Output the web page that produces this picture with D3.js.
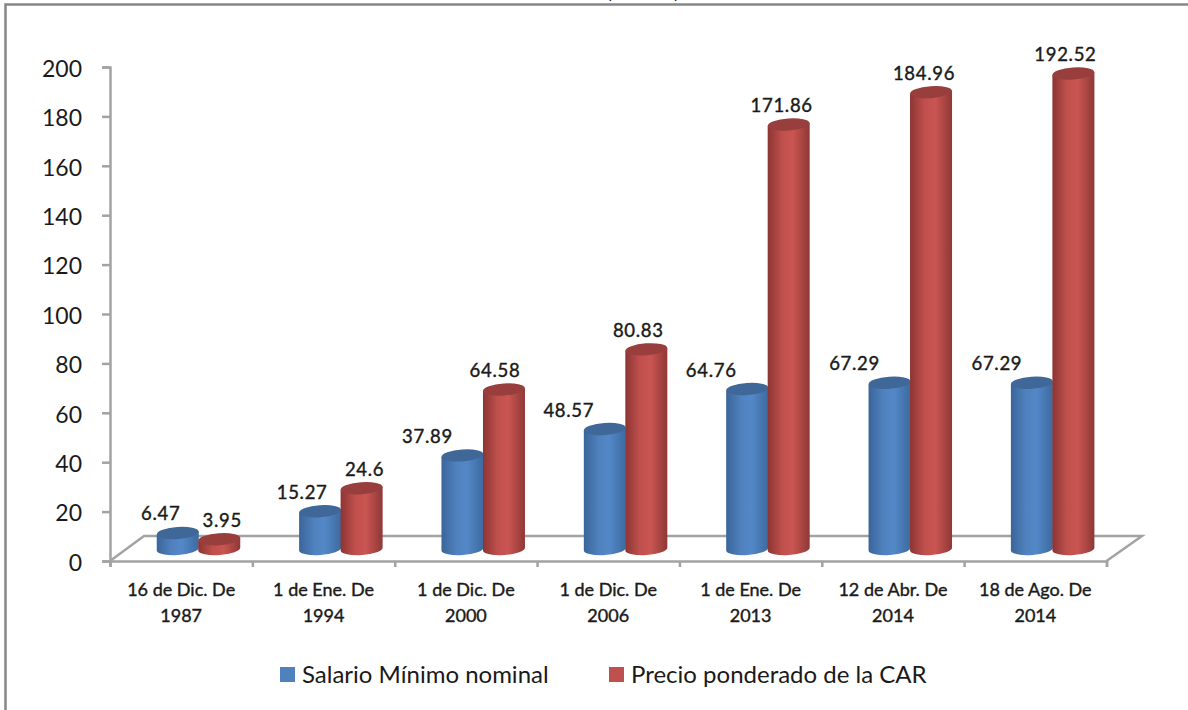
<!DOCTYPE html>
<meta charset="utf-8">
<script src="https://cdnjs.cloudflare.com/ajax/libs/d3/7.8.5/d3.min.js"></script>
<style>
  html, body { margin: 0; padding: 0; background: #fff; overflow: hidden; }
  text { font-family: Lato, "Open Sans", sans-serif; fill: #1a1a1a; }
</style>
<body>
<script>

// Data
var categories = [
  ["16 de Dic. De", "1987"],
  ["1 de Ene. De", "1994"],
  ["1 de Dic. De", "2000"],
  ["1 de Dic. De", "2006"],
  ["1 de Ene. De", "2013"],
  ["12 de Abr. De", "2014"],
  ["18 de Ago. De", "2014"]
];
var salario = [6.47, 15.27, 37.89, 48.57, 64.76, 67.29, 67.29];
var precio = [3.95, 24.6, 64.58, 80.83, 171.86, 184.96, 192.52];
var salarioLabels = ["6.47", "15.27", "37.89", "48.57", "64.76", "67.29", "67.29"];
var precioLabels = ["3.95", "24.6", "64.58", "80.83", "171.86", "184.96", "192.52"];
var yTicks = [0, 20, 40, 60, 80, 100, 120, 140, 160, 180, 200];

// Horizontal nudges of the data labels, the original has them hand placed
var salarioDx = [-17, -18, -35, -36, -36, -35, -35];
var precioDx = [3, 3, -9, -8, -7, -7, -8];

var axisColor = "#a3a3a3";
var rx = 21, ry = 6, floorDepth = 12, tilt = -4;

var svg = d3.select("body").append("svg")
    .attr("width", 1188)
    .attr("height", 710);

// Gradients for the cylinders
function addGradient(id, stops) {
  var g = svg.append("defs").append("linearGradient").attr("id", id);
  stops.forEach(function(s) {
    g.append("stop").attr("offset", s[0]).attr("stop-color", s[1]);
  });
}
addGradient("blueSide", [["0", "#3a659a"], ["0.35", "#4f81bd"], ["0.6", "#5388c8"], ["1", "#3d6a9f"]]);
addGradient("redSide", [["0", "#8c3533"], ["0.35", "#c0504d"], ["0.6", "#ca5552"], ["1", "#8f3836"]]);

// Frame: only the top and left edges are inside the picture
svg.append("path")
  .attr("d", "M5.5,710V4.5H1188")
  .attr("fill", "none")
  .attr("stroke", "#868686")
  .attr("stroke-width", 2.5);

// Title is cut off by the picture edge, only the bottoms of its brackets are left
svg.selectAll(".title")
    .data(["(", ")"])
  .enter().append("text")
    .attr("class", "title")
    .attr("x", function(d) { return d == "(" ? 609 : 677; })
    .attr("y", -2)
    .attr("text-anchor", "middle")
    .style("font-size", "22px")
    .text(function(d) { return d; });

var x = d3.scaleBand()
  .domain(d3.range(categories.length))
  .range([110, 1106.5]);

var inner = d3.scaleBand()
  .domain(["salario", "precio"])
  .range([47, 130]);

var y = d3.scaleLinear()
  .domain([0, 200])
  .range([561, 67]);

// Floor of the 3D box
svg.append("path")
  .attr("d", "M" + x.range()[0] + "," + y(0) + "L144," + (y(0) - 25) + "H1142L" + x.range()[1] + "," + y(0))
  .attr("fill", "none")
  .attr("stroke", axisColor)
  .attr("stroke-width", 2.5);

// Y axis
var yAxis = svg.append("g")
  .attr("transform", "translate(110,0)")
  .call(d3.axisLeft(y).tickValues(yTicks).tickSize(8).tickPadding(20));
yAxis.selectAll("path, line").attr("stroke", axisColor).attr("stroke-width", 2.5);
yAxis.selectAll("text").style("font-size", "23px").attr("fill", "#1a1a1a").attr("dy", "0.4em");

// X axis, labels are added by hand because they wrap over two lines
var xAxis = svg.append("g")
  .attr("transform", "translate(0," + y(0) + ")")
  .call(d3.axisBottom(d3.scaleLinear().domain([0, 7]).range(x.range()))
    .ticks(7).tickSize(6).tickFormat(""));
xAxis.selectAll("path, line").attr("stroke", axisColor).attr("stroke-width", 2.5);

svg.selectAll(".catlabel")
    .data(categories)
  .enter().append("text")
    .attr("class", "catlabel")
    .attr("text-anchor", "middle")
    .style("font-size", "18px")
    .style("stroke", "#1a1a1a")
    .style("stroke-width", "0.4px")
    .each(function(d, i) {
      var cx = x(i) + x.bandwidth() / 2;
      d3.select(this).selectAll("tspan")
          .data(d)
        .enter().append("tspan")
          .attr("x", cx)
          .attr("y", function(t, j) { return 596 + j * 26; })
          .text(function(t) { return t; });
    });

// One series of cylinders
function drawSeries(name, values, labels, dx, side, top) {
  var g = svg.append("g").attr("class", "series-" + name);
  var w = inner.bandwidth();
  var bars = g.selectAll("g")
      .data(values)
    .enter().append("g")
      .attr("transform", function(d, i) {
        return "translate(" + (x(i) + inner(name) + w / 2) + ",0)";
      });

  // body: bottom half ellipse and straight sides
  bars.append("path")
    .attr("fill", "url(#" + side + ")")
    .attr("d", function(d) {
      var yTop = y(d) - floorDepth, yBase = y(0) - floorDepth;
      var k = rx * Math.tan(-tilt * Math.PI / 180);
      return "M" + (-rx) + "," + (yTop + k) + "L" + (-rx) + "," + (yBase + k) +
        "A" + rx + "," + ry + " " + tilt + " 0 0 " + rx + "," + (yBase - k) +
        "L" + rx + "," + (yTop - k) + "Z";
    });

  bars.append("ellipse")
    .attr("rx", rx)
    .attr("ry", ry)
    .attr("fill", top)
    .attr("transform", function(d) {
      return "translate(0," + (y(d) - floorDepth) + ") rotate(" + tilt + ")";
    });

  bars.append("text")
    .attr("x", function(d, i) { return dx[i]; })
    .attr("y", function(d) { return y(d) - floorDepth - 19; })
    .attr("dy", "0.35em")
    .attr("text-anchor", "middle")
    .style("font-size", "18.5px")
    .style("stroke", "#1a1a1a")
    .style("stroke-width", "0.4px")
    .style("letter-spacing", "0.7px")
    .text(function(d, i) { return labels[i]; });
}

drawSeries("salario", salario, salarioLabels, salarioDx, "blueSide", "#3f6797");
drawSeries("precio", precio, precioLabels, precioDx, "redSide", "#983f3d");

// Legend
var legend = [
  {name: "Salario Mínimo nominal", color: "#4f81bd", sx: 280, tx: 302},
  {name: "Precio ponderado de la CAR", color: "#c0504d", sx: 609, tx: 631}
];
legend.forEach(function(d) {
  svg.append("rect")
    .attr("x", d.sx).attr("y", 667).attr("width", 15).attr("height", 15)
    .attr("fill", d.color);
  svg.append("text")
    .attr("x", d.tx).attr("y", 683)
    .style("font-size", "24px")
    .text(d.name);
});

</script>
</body>
</html>
